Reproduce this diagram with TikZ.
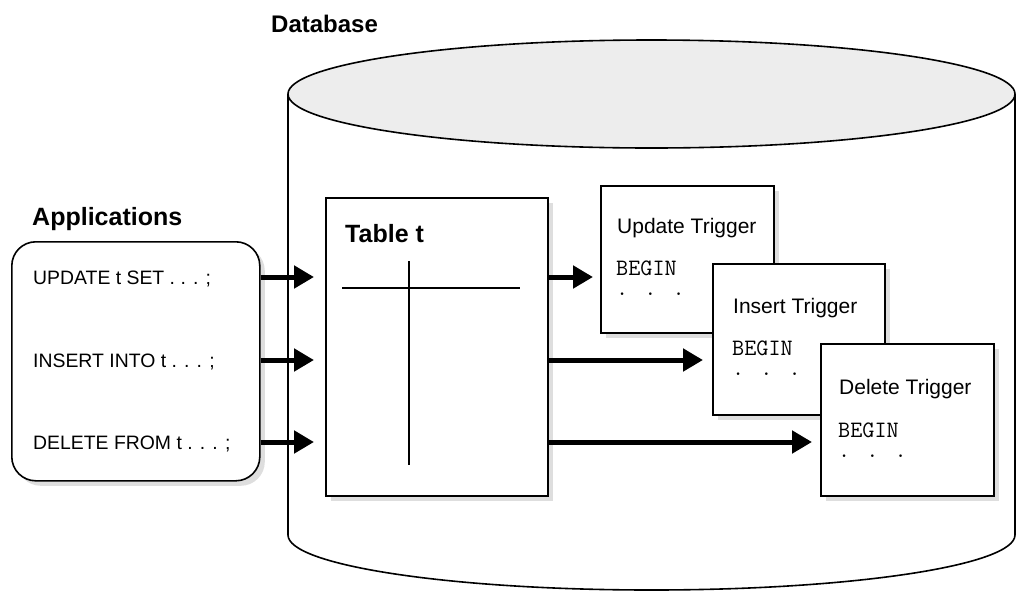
\documentclass[tikz,border=0pt]{standalone}
\usepackage{fontspec}
\setmainfont{Liberation Sans}
\usetikzlibrary{arrows.meta,shadows,positioning}

\tikzset{
  box/.style={draw,line width=1.6pt,fill=white,rectangle,inner sep=0pt,anchor=north west,
    drop shadow={shadow xshift=5pt,shadow yshift=-5pt,fill=black!13,opacity=1}},
  fat/.style={line width=5pt,-{Triangle[length=20pt,width=22pt]}},
  heading/.style={anchor=base west,inner sep=0pt,font=\fontsize{25}{30}\selectfont\bfseries},
  stmt/.style={anchor=base west,inner sep=0pt,font=\fontsize{19.4}{23}\selectfont},
  trigname/.style={anchor=base west,inner sep=0pt,font=\fontsize{21}{24}\selectfont},
  code/.style={anchor=base west,inner sep=0pt,align=left,font=\fontsize{23.5}{20}\selectfont\ttfamily},
}

\begin{document}
\begin{tikzpicture}[x=1pt,y=-1pt]
\useasboundingbox (0,0) rectangle (1016,592);

% database cylinder
\draw[line width=1.6pt] (288,94) -- (288,535)
  arc[start angle=180,end angle=360,x radius=363.5pt,y radius=55pt] -- (1015,94);
\draw[line width=1.6pt,fill=black!7] (651.5,94) ellipse [x radius=363.5pt,y radius=54pt];
\node[heading,font=\fontsize{24}{29}\selectfont\bfseries] (dblabel) at (271,32) {Database};

% applications
\node[heading] (applabel) at (32,225) {Applications};
\node[box,rounded corners=24pt,minimum width=248pt,minimum height=239pt] (apps) at (11,241) {};
\node[stmt] (upd) at (33,284) {UPDATE t SET . . . ;};
\node[stmt] (ins) at (33,367) {INSERT INTO t . . . ;};
\node[stmt] (del) at (33,449) {DELETE FROM t . . . ;};

% table
\node[box,minimum width=222pt,minimum height=298pt] (tbl) at (325,197) {};
\node[heading] (tbllabel) at (345,242) {Table t};
\draw[line width=1.6pt] (342,288) -- (520,288);
\draw[line width=1.6pt] (409,261) -- (409,465);

% triggers
\node[box,minimum width=173pt,minimum height=147pt] (trigU) at (600,185) {};
\node[trigname] (nameU) at (617,233) {Update Trigger};
\node[code] (codeU) at (616,295) {BEGIN\\. . .};

\node[box,minimum width=172pt,minimum height=151pt] (trigI) at (712,263) {};
\node[trigname] (nameI) at (733,313) {Insert Trigger};
\node[code] (codeI) at (732,375) {BEGIN\\. . .};

\node[box,minimum width=173pt,minimum height=152pt] (trigD) at (820,343) {};
\node[trigname] (nameD) at (839,394) {Delete Trigger};
\node[code] (codeD) at (838,457) {BEGIN\\. . .};

% connectors
\coordinate (rowU) at (0,277);
\coordinate (rowI) at (0,360);
\coordinate (rowD) at (0,442);
\foreach \r in {rowU,rowI,rowD}
  \draw[fat,shorten >=11pt] (apps.east |- \r) -- (tbl.west |- \r);
\draw[fat,shorten >=7pt] (tbl.east |- rowU) -- (trigU.west |- rowU);
\draw[fat,shorten >=9pt] (tbl.east |- rowI) -- (trigI.west |- rowI);
\draw[fat,shorten >=8pt] (tbl.east |- rowD) -- (trigD.west |- rowD);
\end{tikzpicture}
\end{document}
